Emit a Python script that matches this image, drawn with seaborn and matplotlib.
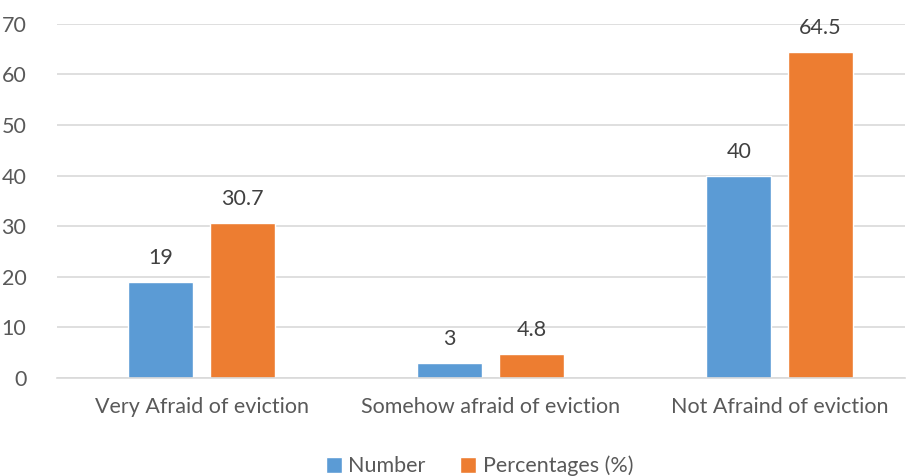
import pandas as pd
import matplotlib.pyplot as plt
import seaborn as sns

categorias = ["Very Afraid of eviction", "Somehow afraid of eviction", "Not Afraind of eviction"]
numero = [19, 3, 40]
percentagens = [30.7, 4.8, 64.5]
series = ["Number", "Percentages (%)"]
rotulos = [["19", "3", "40"], ["30.7", "4.8", "64.5"]]

df = pd.DataFrame({
    "Categoria": categorias * 2,
    "Valor": numero + percentagens,
    "Serie": [series[0]] * 3 + [series[1]] * 3,
})

sns.set_style("white")
plt.rcParams["font.family"] = ["Lato", "DejaVu Sans"]

fig = plt.figure(figsize=(9.12, 4.76), dpi=100)
ax = fig.add_axes([0.0625, 0.206, 0.93, 0.744])

# largura e gap ajustados para barras de ~65px com espaço de ~17px
sns.barplot(data=df, x="Categoria", y="Valor", hue="Serie",
            palette=["#5B9BD5", "#ED7D31"], width=0.567, gap=0.207,
            saturation=1, ax=ax)

for cont, labs in zip(ax.containers, rotulos):
    ax.bar_label(cont, labels=labs, padding=10, fontsize=15.5, color="#404040")

ax.set_xlim(-0.5, 2.434)
ax.set_ylim(0, 70)
ax.set_yticks(range(0, 71, 10))
ax.yaxis.grid(True, color="#D9D9D9", linewidth=1.2)
ax.set_axisbelow(True)
for s in ["top", "right", "left"]:
    ax.spines[s].set_visible(False)
ax.spines["bottom"].set_color("#D9D9D9")
ax.spines["bottom"].set_linewidth(1.2)
ax.tick_params(axis="both", length=0, labelsize=15.5, labelcolor="#595959")
ax.tick_params(axis="x", pad=14)
ax.tick_params(axis="y", pad=22)
ax.set_xlabel("")
ax.set_ylabel("")

ax.legend(loc="upper center", bbox_to_anchor=(0.498, -0.165), ncol=2, frameon=False,
          fontsize=15.5, handlelength=0.75, handleheight=0.75, handletextpad=0.3,
          columnspacing=1.6, labelcolor="#595959")

fig.savefig("out.png", dpi=100)
